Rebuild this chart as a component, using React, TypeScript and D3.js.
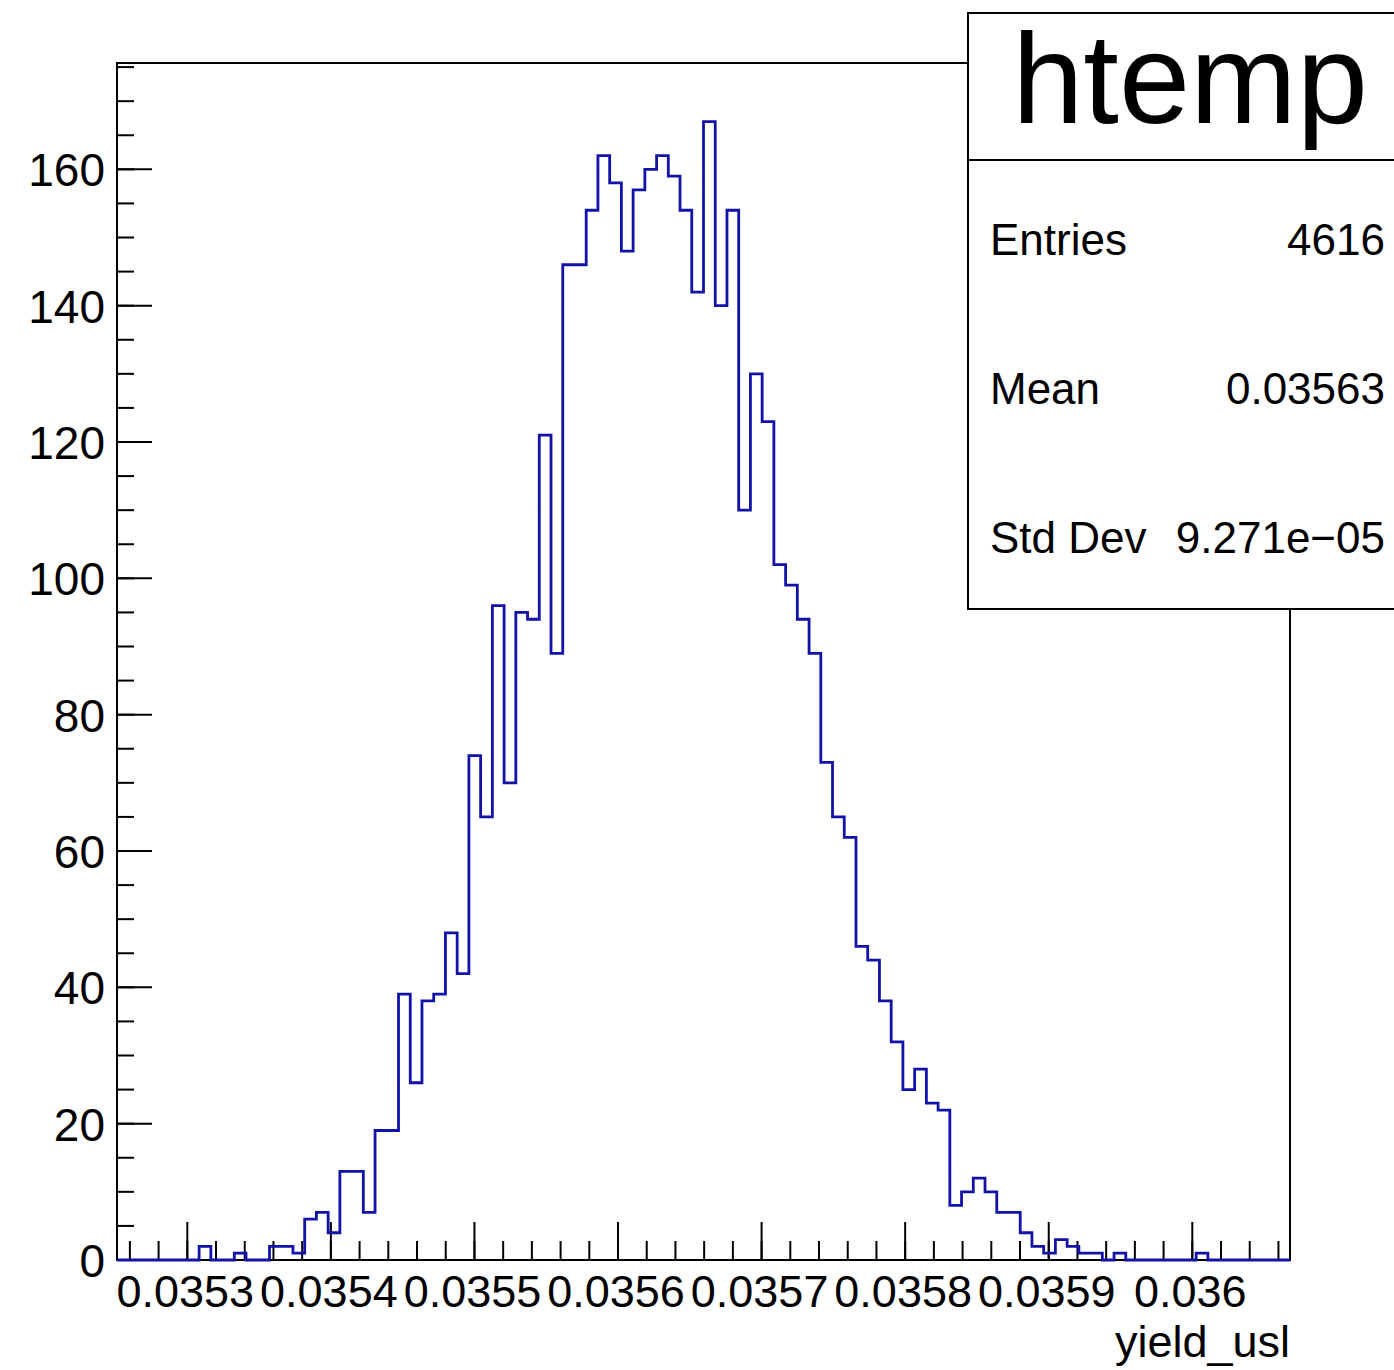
import React from 'react';
import * as d3 from 'd3';

// bin contents of htemp (100 bins)
const counts = [
  0, 0, 0, 0, 0, 0, 0, 2, 0, 0,
  1, 0, 0, 2, 2, 1, 6, 7, 4, 13,
  13, 7, 19, 19, 39, 26, 38, 39, 48, 42,
  74, 65, 96, 70, 95, 94, 121, 89, 146, 146,
  154, 162, 158, 148, 157, 160, 162, 159, 154, 142,
  167, 140, 154, 110, 130, 123, 102, 99, 94, 89,
  73, 65, 62, 46, 44, 38, 32, 25, 28, 23,
  22, 8, 10, 12, 10, 7, 7, 4, 2, 1,
  3, 2, 1, 1, 0, 1, 0, 0, 0, 0,
  0, 0, 1, 0, 0, 0, 0, 0, 0, 0,
];
const histMin = 0.03525103;
const histMax = 0.03606805;
const yMax = 175.6;

const xTickValues = [0.0353, 0.0354, 0.0355, 0.0356, 0.0357, 0.0358, 0.0359, 0.036];
const xTickLabels = ['0.0353', '0.0354', '0.0355', '0.0356', '0.0357', '0.0358', '0.0359', '0.036'];
const yTickValues = [0, 20, 40, 60, 80, 100, 120, 140, 160];
const xTitle = 'yield_usl';
const statsTitle = 'htemp';
const statsLabels = ['Entries', 'Mean', 'Std Dev'];
const statsValues = ['4616', '0.03563', '9.271e\u221205'];

const W = 1394, H = 1370;
const left = 117, right = 1290, top = 63, bottom = 1260;
const font = '"Liberation Sans", Arial, Helvetica, sans-serif';

export default function App() {
  const x = d3.scaleLinear().domain([histMin, histMax]).range([left, right]);
  const y = d3.scaleLinear().domain([0, yMax]).range([bottom, top]);
  const bw = (histMax - histMin) / counts.length;

  const pts: [number, number][] = counts.map((c, i) => [histMin + i * bw, c]);
  pts.push([histMax, counts[counts.length - 1]]);
  const line = d3.line<[number, number]>()
    .x(d => x(d[0]))
    .y(d => y(d[1]))
    .curve(d3.curveStepAfter);
  const histPath = `M${x(histMin)},${y(0)}L` + line(pts)!.slice(1) + `L${x(histMax)},${y(0)}`;

  // minor ticks
  const xMinor: number[] = [];
  for (let k = -3; k <= 40; k++) {
    const v = 0.0353 + k * 0.00002;
    if (v >= histMin && v <= histMax) xMinor.push(v);
  }
  const yMinor: number[] = [];
  for (let v = 0; v <= yMax; v += 5) yMinor.push(v);

  const statsY = [255, 404, 553];

  return (
    <svg width={W} height={H} style={{ position: 'absolute', left: 0, top: 0, background: '#fff' }}
      fontFamily={font}>
      <rect x={0} y={0} width={W} height={H} fill="#fff" />
      {/* frame */}
      <rect x={left} y={top} width={right - left} height={bottom - top} fill="none" stroke="#000" strokeWidth={2} />

      {/* x ticks */}
      {xMinor.map((v, i) => (
        <line key={'xm' + i} x1={x(v)} x2={x(v)} y1={bottom} y2={bottom - 19} stroke="#000" strokeWidth={2} />
      ))}
      {xTickValues.map((v, i) => (
        <line key={'xM' + i} x1={x(v)} x2={x(v)} y1={bottom} y2={bottom - 38} stroke="#000" strokeWidth={2} />
      ))}
      {xTickValues.map((v, i) => (
        <text key={'xl' + i} x={x(v) - 2} y={1307} fontSize={45} textAnchor="middle" fill="#000">{xTickLabels[i]}</text>
      ))}
      <text x={right} y={1357} fontSize={45} textAnchor="end" fill="#000">{xTitle}</text>

      {/* y ticks */}
      {yMinor.map((v, i) => (
        <line key={'ym' + i} x1={left} x2={left + 17} y1={y(v)} y2={y(v)} stroke="#000" strokeWidth={2} />
      ))}
      {yTickValues.map((v, i) => (
        <line key={'yM' + i} x1={left} x2={left + 35} y1={y(v)} y2={y(v)} stroke="#000" strokeWidth={2} />
      ))}
      {yTickValues.map((v, i) => (
        <text key={'yl' + i} x={105} y={y(v) + 17} fontSize={46} textAnchor="end" fill="#000">{v}</text>
      ))}

      {/* histogram */}
      <path d={histPath} fill="none" stroke="#1212a8" strokeWidth={2.8} />

      {/* stats box */}
      <rect x={968} y={13} width={460} height={596} fill="#fff" stroke="#000" strokeWidth={2} />
      <line x1={968} x2={W} y1={160} y2={160} stroke="#000" strokeWidth={2} />
      <text x={1190} y={123} fontSize={128} textAnchor="middle" fill="#000">{statsTitle}</text>
      {statsLabels.map((s, i) => (
        <g key={'st' + i}>
          <text x={990} y={statsY[i]} fontSize={44} fill="#000">{s}</text>
          <text x={1385} y={statsY[i]} fontSize={44} textAnchor="end" fill="#000">{statsValues[i]}</text>
        </g>
      ))}
    </svg>
  );
}
